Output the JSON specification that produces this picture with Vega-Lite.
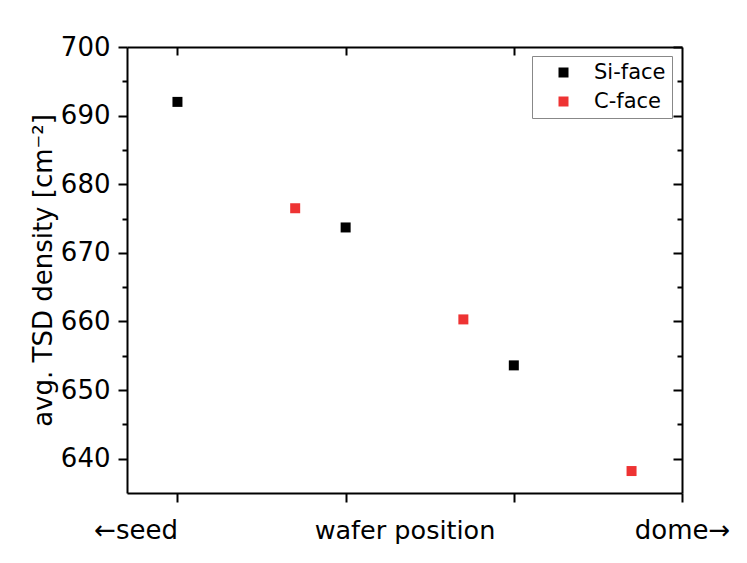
{
  "$schema": "https://vega.github.io/schema/vega-lite/v6.json",
  "width": 555,
  "height": 446,
  "autosize": {"type": "none"},
  "padding": {"left": 127, "top": 47, "right": 65, "bottom": 70},
  "background": "white",
  "config": {
    "view": {"stroke": null},
    "font": "DejaVu Sans",
    "axis": {
      "grid": false,
      "domainColor": "black",
      "domainWidth": 2,
      "tickColor": "black",
      "tickWidth": 2,
      "labelColor": "black",
      "titleColor": "black",
      "labelFont": "DejaVu Sans",
      "titleFont": "DejaVu Sans",
      "titleFontWeight": "normal"
    },
    "legend": {
      "labelFont": "DejaVu Sans",
      "labelColor": "black"
    }
  },
  "datasets": {
    "tsd": [
      {"face": "Si-face", "pos": 0, "density": 692.0},
      {"face": "Si-face", "pos": 1, "density": 673.7},
      {"face": "Si-face", "pos": 2, "density": 653.6},
      {"face": "C-face", "pos": 0.7, "density": 676.5},
      {"face": "C-face", "pos": 1.7, "density": 660.3},
      {"face": "C-face", "pos": 2.7, "density": 638.2}
    ]
  },
  "data": {"name": "tsd"},
  "layer": [
    {
      "mark": {"type": "point", "shape": "square", "filled": true, "size": 100, "opacity": 1, "strokeWidth": 0},
      "encoding": {
        "x": {
          "field": "pos",
          "type": "quantitative",
          "scale": {"domain": [-0.3, 3], "nice": false, "zero": false},
          "axis": {
            "orient": "bottom",
            "values": [0, 1, 2, 3],
            "tickSize": 9,
            "labelExpr": "datum.value == 0 ? '←seed' : (datum.value == 3 ? 'dome→' : '')",
            "labelFontSize": 26,
            "labelBaseline": "alphabetic",
            "labelPadding": 36,
            "labelAlign": {"condition": {"test": "datum.value == 0", "value": "right"}, "value": "center"},
            "labelFlush": false,
            "labelOverlap": false,
            "title": "wafer position",
            "titleFontSize": 25.5,
            "titleBaseline": "alphabetic",
            "titleY": 45
          }
        },
        "y": {
          "field": "density",
          "type": "quantitative",
          "scale": {"domain": [635, 700], "nice": false, "zero": false},
          "axis": {
            "orient": "left",
            "values": [640, 650, 660, 670, 680, 690, 700],
            "tickSize": 9,
            "labelFontSize": 26,
            "labelPadding": 8,
            "title": "avg. TSD density [cm⁻²]",
            "titleFontSize": 26,
            "titlePadding": 4
          }
        },
        "color": {
          "field": "face",
          "type": "nominal",
          "scale": {"domain": ["Si-face", "C-face"], "range": ["#000000", "#ee3333"]},
          "legend": {
            "title": null,
            "orient": "none",
            "legendX": 405,
            "legendY": 9,
            "symbolType": "square",
            "symbolSize": 100,
            "symbolStrokeWidth": 0,
            "symbolOffset": 15,
            "labelOffset": 20,
            "labelFontSize": 21,
            "rowPadding": 7,
            "padding": 6,
            "strokeColor": "#888888",
            "fillColor": "white"
          }
        }
      }
    },
    {
      "mark": {"type": "point", "opacity": 0},
      "encoding": {
        "x": {
          "field": "pos",
          "type": "quantitative",
          "axis": {"orient": "top", "values": [0, 1, 2], "tickSize": -8, "labels": false, "title": null}
        },
        "y": {
          "field": "density",
          "type": "quantitative",
          "axis": {"orient": "left", "values": [645, 655, 665, 675, 685, 695], "tickSize": 5, "labels": false, "domain": false, "title": null}
        }
      }
    },
    {
      "mark": {"type": "point", "opacity": 0},
      "encoding": {
        "x": {"field": "pos", "type": "quantitative", "axis": null},
        "y": {
          "field": "density",
          "type": "quantitative",
          "axis": {"orient": "right", "values": [640, 650, 660, 670, 680, 690, 700], "tickSize": -9, "labels": false, "title": null}
        }
      }
    },
    {
      "mark": {"type": "point", "opacity": 0},
      "encoding": {
        "x": {"field": "pos", "type": "quantitative", "axis": null},
        "y": {
          "field": "density",
          "type": "quantitative",
          "axis": {"orient": "right", "values": [645, 655, 665, 675, 685, 695], "tickSize": -5, "labels": false, "domain": false, "title": null}
        }
      }
    }
  ],
  "resolve": {"axis": {"x": "independent", "y": "independent"}}
}
